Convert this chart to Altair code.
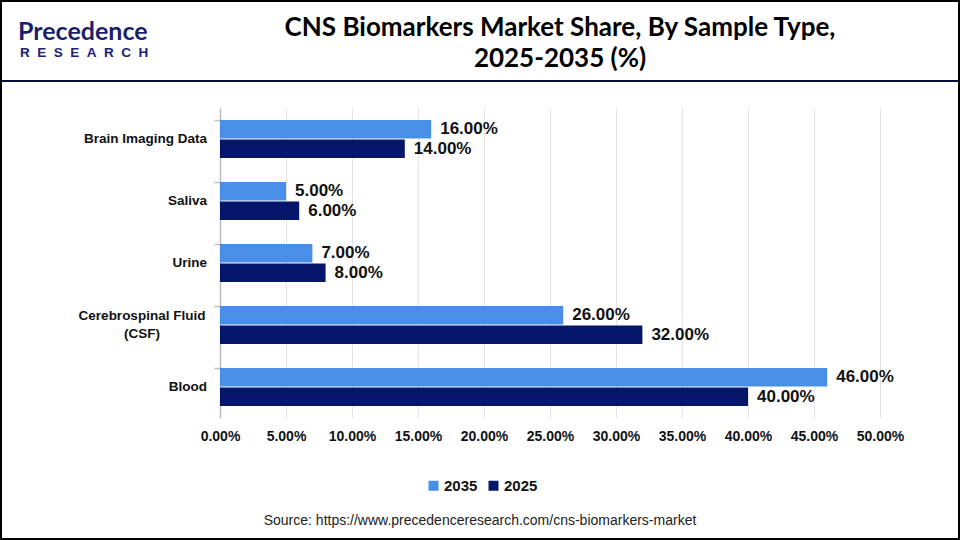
import altair as alt
import pandas as pd

# Sample types, top to bottom
categories = ["Brain Imaging Data", "Saliva", "Urine", "Cerebrospinal Fluid (CSF)", "Blood"]
share_2035 = [16, 5, 7, 26, 46]
share_2025 = [14, 6, 8, 32, 40]
years = ["2035", "2025"]
colors = ["#4A8FE7", "#06166B"]
x_ticks = [0, 5, 10, 15, 20, 25, 30, 35, 40, 45, 50]

rows = []
for cat, a, b in zip(categories, share_2035, share_2025):
    rows.append({"category": cat, "year": "2035", "share": a})
    rows.append({"category": cat, "year": "2025", "share": b})
df = pd.DataFrame(rows)

FONT = "Liberation Sans"
GAP = "\u00a0\u00a0"

y_enc = alt.Y(
    "category:N",
    sort=categories,
    scale=alt.Scale(paddingInner=0.39, paddingOuter=0.195),
    axis=alt.Axis(
        title=None, labels=False, domainColor="#bdbdbd", domainWidth=1.5,
        tickColor="#bdbdbd", tickWidth=1.5, tickSize=6, bandPosition=0, grid=False,
    ),
)
x_enc = alt.X(
    "share:Q",
    scale=alt.Scale(domain=[0, 50], nice=False),
    axis=alt.Axis(
        title=None, values=x_ticks, domain=False, ticks=False,
        gridColor="#e3e3e3", gridWidth=1,
        labelExpr="format(datum.value, '.2f') + '%'",
        labelFont=FONT, labelFontWeight="bold", labelFontSize=14,
        labelColor="#111111", labelPadding=11, labelFlush=False, labelOverlap=False,
    ),
)
y_off = alt.YOffset("year:N", sort=years, scale=alt.Scale(paddingInner=0.06))

base = alt.Chart(df)

bars = base.mark_bar().encode(
    x=x_enc,
    y=y_enc,
    yOffset=y_off,
    color=alt.Color(
        "year:N",
        sort=years,
        scale=alt.Scale(domain=years, range=colors),
        legend=alt.Legend(
            title=None, orient="none", direction="horizontal",
            legendX=206, legendY=370, symbolType="square", symbolSize=100,
            symbolStrokeWidth=0, labelFont=FONT, labelFontWeight="bold",
            labelFontSize=15, labelColor="#111111", columnPadding=8,
            symbolOffset=0, labelOffset=3,
        ),
    ),
)

values = base.mark_text(
    align="left", baseline="middle", dx=9, font=FONT, fontWeight="bold",
    fontSize=17, color="#111111",
).encode(
    x="share:Q",
    y=alt.Y("category:N", sort=categories),
    yOffset=y_off,
    text=alt.Text("label:N"),
).transform_calculate(label="format(datum.share, '.2f') + '%'")

# Category labels drawn as text so the two-line label can be centred
cat_df = pd.DataFrame({"category": categories})
cat_single = alt.Chart(cat_df).transform_filter(
    alt.datum.category != "Cerebrospinal Fluid (CSF)"
).mark_text(
    align="right", baseline="middle", font=FONT, fontWeight="bold",
    fontSize=13.5, color="#111111",
).encode(
    x=alt.value(-13),
    y=alt.Y("category:N", sort=categories),
    text="category:N",
)
cat_multi = alt.Chart(cat_df).transform_filter(
    alt.datum.category == "Cerebrospinal Fluid (CSF)"
).transform_calculate(
    txt="'Cerebrospinal Fluid\\n(CSF)'"
).mark_text(
    align="center", baseline="middle", font=FONT, fontWeight="bold",
    fontSize=13.5, color="#111111", lineBreak="\n", lineHeight=18, dy=-9,
).encode(
    x=alt.value(-78),
    y=alt.Y("category:N", sort=categories),
    text="txt:N",
)

one = alt.Data(values=[{}])

title1 = alt.Chart(one).mark_text(
    text="CNS Biomarkers Market Share, By Sample Type,", font="Lato",
    fontWeight="bold", fontSize=26, color="#000000", align="center", baseline="middle",
).encode(x=alt.value(340), y=alt.value(-80))
title2 = alt.Chart(one).mark_text(
    text="2025-2035 (%)", font="Lato",
    fontWeight="bold", fontSize=26, color="#000000", align="center", baseline="middle",
).encode(x=alt.value(340), y=alt.value(-49))

logo1 = alt.Chart(one).mark_text(
    text="Precedence", font="Lato", fontWeight="bold", fontSize=25,
    color="#1B1F6B", align="left", baseline="middle",
).encode(x=alt.value(-202), y=alt.value(-76))
logo2 = alt.Chart(one).mark_text(
    text=GAP.join("RESEARCH"), font=FONT, fontWeight="bold", fontSize=13.5,
    color="#1A2277", align="left", baseline="middle",
).encode(x=alt.value(-200), y=alt.value(-55))

header_rule = alt.Chart(one).mark_rule(color="#0B0F3A", strokeWidth=2).encode(
    x=alt.value(-220), x2=alt.value(740), y=alt.value(-27)
)
frame = alt.Chart(one).mark_rect(
    fill=None, stroke="#000000", strokeWidth=2
).encode(x=alt.value(-219), x2=alt.value(739), y=alt.value(-107), y2=alt.value(431))

source = alt.Chart(one).mark_text(
    text="Source: https://www.precedenceresearch.com/cns-biomarkers-market",
    font=FONT, fontSize=14, color="#222222", align="center", baseline="middle",
).encode(x=alt.value(260), y=alt.value(413))

chart = alt.layer(
    bars, values, cat_single, cat_multi,
    title1, title2, logo1, logo2, header_rule, frame, source,
).properties(
    width=660, height=310,
    padding={"left": 220, "top": 108, "right": 80, "bottom": 122},
    autosize=alt.AutoSizeParams(type="none"),
    background="white",
).configure_view(stroke=None)

chart.save("out.html", embed_options={"renderer": "svg", "actions": False})
